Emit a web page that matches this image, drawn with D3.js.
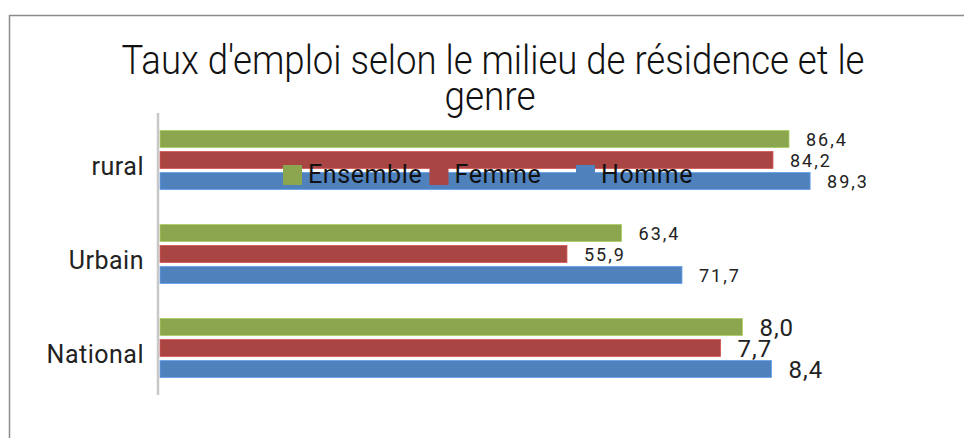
<!DOCTYPE html>
<html>
<head>
<meta charset="utf-8">
<script src="https://cdn.jsdelivr.net/npm/d3@7"></script>
<style>
  body { margin: 0; background: #fff; }
  text { font-family: Roboto, "Liberation Sans", sans-serif; fill: #222; }
  .title { font-weight: 300; }
</style>
</head>
<body>
<div id="chart"></div>
<script>
var categories = ["rural", "Urbain", "National"];
var series = ["Ensemble", "Femme", "Homme"];
var colors = ["#8ba64f", "#a94543", "#4f81bd"];

var ensemble = [86.4, 63.4, 80.0];
var femme = [84.2, 55.9, 77.0];
var homme = [89.3, 71.7, 84.0];

var ensembleLabels = ["86,4", "63,4", "8,0"];
var femmeLabels = ["84,2", "55,9", "7,7"];
var hommeLabels = ["89,3", "71,7", "8,4"];

function init() {
    var w = 964, h = 438;

    var values = [ensemble, femme, homme],
        labels = [ensembleLabels, femmeLabels, hommeLabels];

    var x = d3.scaleLinear().domain([0, 100]).range([160, 888]);

    var y0 = d3.scaleBand()
        .domain(categories)
        .range([113, 395])
        .paddingInner(0.372)
        .paddingOuter(0.186);

    var y1 = d3.scaleBand()
        .domain(series)
        .range([0, y0.bandwidth()])
        .paddingInner(0.19);

    var svg = d3.select("#chart").append("svg")
        .attr("width", w)
        .attr("height", h);

    // frame
    svg.append("path")
       .attr("d", "M9.5," + h + "V15.5H" + w)
       .attr("fill", "none")
       .attr("stroke", "#8c8c8c")
       .attr("stroke-width", 1.5);

    // title, two lines
    svg.append("text")
       .attr("class", "title")
       .attr("x", 493).attr("y", 74)
       .attr("text-anchor", "middle")
       .attr("textLength", 743)
       .attr("lengthAdjust", "spacingAndGlyphs")
       .style("font-size", "40px")
       .style("fill", "#111")
       .text("Taux d'emploi selon le milieu de résidence et le");
    svg.append("text")
       .attr("class", "title")
       .attr("x", 490).attr("y", 110)
       .attr("text-anchor", "middle")
       .attr("textLength", 91)
       .attr("lengthAdjust", "spacingAndGlyphs")
       .style("font-size", "40px")
       .style("fill", "#111")
       .text("genre");

    var groups = svg.selectAll(".cat")
        .data(categories)
        .enter().append("g")
        .attr("class", "cat")
        .attr("transform", function(d) { return "translate(0," + y0(d) + ")"; });

    groups.selectAll("rect")
        .data(function(d, i) {
            return series.map(function(s, j) {
                return {cat: d, series: s, value: values[j][i], color: colors[j]};
            });
        })
        .enter().append("rect")
        .attr("x", x(0))
        .attr("y", function(d) { return y1(d.series); })
        .attr("width", function(d) { return x(d.value) - x(0); })
        .attr("height", y1.bandwidth())
        .attr("fill", function(d) { return d.color; })
        .attr("stroke", function(d) { return d3.color(d.color).brighter(0.6); })
        .attr("stroke-width", 0.8);

    groups.selectAll(".val")
        .data(function(d, i) {
            return series.map(function(s, j) {
                return {cat: d, series: s, value: values[j][i], label: labels[j][i]};
            });
        })
        .enter().append("text")
        .attr("class", "val")
        .attr("x", function(d) { return x(d.value) + 17; })
        .attr("y", function(d) {
            var big = d.cat === "National";
            return y1(d.series) + y1.bandwidth() / 2 + (big ? 9 : 7.5);
        })
        .style("font-size", function(d) { return d.cat === "National" ? "24px" : "18px"; })
        .style("letter-spacing", function(d) { return d.cat === "National" ? "1px" : "2px"; })
        .text(function(d) { return d.label; });

    // y axis
    svg.append("line")
       .attr("x1", 158).attr("x2", 158)
       .attr("y1", y0.range()[0]).attr("y2", y0.range()[1])
       .attr("stroke", "#c8c8c8")
       .attr("stroke-width", 2.5);

    svg.selectAll(".catLabel")
       .data(categories)
       .enter().append("text")
       .attr("class", "catLabel")
       .attr("x", 144)
       .attr("y", function(d) { return y0(d) + y0.bandwidth() / 2 + 15; })
       .attr("text-anchor", "end")
       .style("font-size", "25px")
       .style("letter-spacing", "0.5px")
       .text(function(d) { return d; });

    // legend, drawn over the rural bars
    var lx = d3.scalePoint().domain(series).range([283, 576]);

    var legend = svg.selectAll(".legend")
        .data(series)
        .enter().append("g")
        .attr("class", "legend")
        .attr("transform", function(d) { return "translate(" + lx(d) + ",165)"; });

    legend.append("rect")
        .attr("width", 19)
        .attr("height", 20)
        .attr("fill", function(d, i) { return colors[i]; });

    legend.append("text")
        .attr("x", 25)
        .attr("y", 18)
        .style("font-size", "25px")
        .style("letter-spacing", "0.6px")
        .style("fill", "#111")
        .text(function(d) { return d; });
}
init();
</script>
</body>
</html>
